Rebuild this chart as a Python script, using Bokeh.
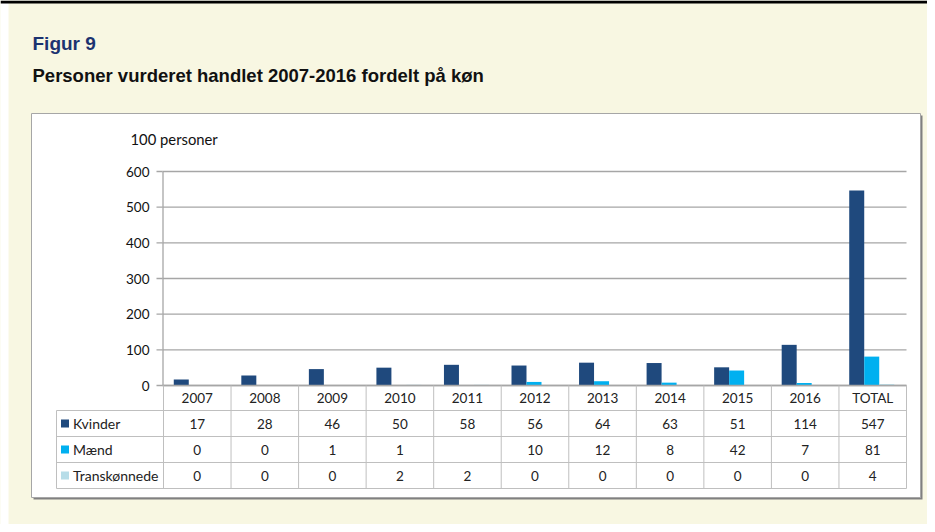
from bokeh.plotting import figure
from bokeh.models import Range1d, ColumnDataSource
from bokeh.core.properties import value
from bokeh.embed import file_html
from bokeh.resources import INLINE

# ---------------- data ----------------
categories = ["2007", "2008", "2009", "2010", "2011", "2012", "2013", "2014", "2015", "2016", "TOTAL"]
kvinder = [17, 28, 46, 50, 58, 56, 64, 63, 51, 114, 547]
maend = [0, 0, 1, 1, None, 10, 12, 8, 42, 7, 81]
trans = [0, 0, 0, 2, 2, 0, 0, 0, 0, 0, 4]
series_names = ["Kvinder", "Mænd", "Transkønnede"]
series_colors = ["#1F497D", "#00B0F0", "#B7DDE8"]
yticks = [0, 100, 200, 300, 400, 500, 600]
fig_label = "Figur 9"
fig_title = "Personer vurderet handlet 2007-2016 fordelt på køn"
y_unit_label = "100 personer"

# ---------------- layout (picture pixels) ----------------
W, H = 927, 524
OFF = 0
COL_LEFT = 163.0
COLW = (906.0 - 163.0) / len(categories)
ZERO_PY = 385.0
PXU = 214.0 / 600.0


def X(px):
    return (px - COL_LEFT) / COLW


def Y(py):
    return (ZERO_PY - py) / PXU


p = figure(width=W, height=H, output_backend="svg", toolbar_location=None,
           x_range=Range1d(X(OFF), X(OFF + W)), y_range=Range1d(Y(OFF + H), Y(OFF)),
           min_border=0)
p.axis.visible = False
p.grid.visible = False
p.outline_line_color = None
p.background_fill_color = "#F8F7E2"
p.border_fill_color = "#F8F7E2"

font = value("Lato")

# page edge: white strip left, black rule on top
p.quad(left=[X(0)], right=[X(8)], top=[Y(0)], bottom=[Y(H)], fill_color="white",
       line_color=None)
p.quad(left=[X(0)], right=[X(W)], top=[Y(0)], bottom=[Y(3)], fill_color="black",
       line_color=None)

# titles
p.text(x=[X(32)], y=[Y(43)], text=[fig_label], text_font=value("Liberation Sans"),
       text_font_style="bold", text_font_size="19px", text_color="#1C3370",
       text_baseline="middle", text_align="left")
p.text(x=[X(32)], y=[Y(75)], text=[fig_title], text_font=value("Liberation Sans"),
       text_font_style="bold", text_font_size="18.5px", text_color="#111111",
       text_baseline="middle", text_align="left")

# chart box with shadow
p.quad(left=[X(33)], right=[X(922)], top=[Y(115)], bottom=[Y(499)],
       fill_color="#808080", line_color=None)
p.quad(left=[X(31)], right=[X(920)], top=[Y(113)], bottom=[Y(497)],
       fill_color="white", line_color="#A6A6A6", line_width=1)

# unit label
p.text(x=[X(130)], y=[Y(138)], text=[y_unit_label], text_font=font,
       text_font_size="14.8px", text_color="#111111", text_baseline="middle",
       text_align="left")

# grid lines, ticks, tick labels
p.segment(x0=[X(162)] * len(yticks), x1=[X(906)] * len(yticks), y0=yticks, y1=yticks,
          line_color="#A6A6A6", line_width=1.3)
p.segment(x0=[X(156)] * len(yticks), x1=[X(162)] * len(yticks), y0=yticks, y1=yticks,
          line_color="#A6A6A6", line_width=1.3)
p.text(x=[X(149)] * len(yticks), y=yticks, text=[str(t) for t in yticks], text_font=font,
       text_font_size="13.5px", text_color="#111111", text_align="right",
       text_baseline="middle")
p.segment(x0=[X(162.5)], x1=[X(162.5)], y0=[Y(171)], y1=[0],
          line_color="#A6A6A6", line_width=1.3)

# bars
n = len(categories)
bw = 15.0 / COLW
offsets = [-bw - 1.0 / COLW, -1.0 / COLW, bw - 1.0 / COLW]
for vals, off, col in zip([kvinder, maend, trans], offsets, series_colors):
    xs = [i + 0.5 + off for i in range(n)]
    tops = [float("nan") if v is None else v for v in vals]
    src = ColumnDataSource(dict(x=xs, top=tops))
    p.vbar(x="x", top="top", bottom=0, width=bw, source=src, fill_color=col,
           line_color=None)

# table
tbl_col = "#BFBFBF"
row_lines = [410, 436, 462, 488]
p.segment(x0=[X(56)] * len(row_lines), x1=[X(906)] * len(row_lines),
          y0=[Y(r) for r in row_lines], y1=[Y(r) for r in row_lines],
          line_color=tbl_col, line_width=1)
p.segment(x0=[X(162)], x1=[X(906)], y0=[0], y1=[0], line_color="#A6A6A6", line_width=1.3)
vx = [i for i in range(1, n + 1)]
p.segment(x0=vx, x1=vx, y0=[0] * n, y1=[Y(488)] * n, line_color=tbl_col, line_width=1)
p.segment(x0=[0, X(56)], x1=[0, X(56)], y0=[0, Y(410)], y1=[Y(488), Y(488)],
          line_color=tbl_col, line_width=1)

cx = [i + 0.5 for i in range(n)]
p.text(x=cx, y=[Y(397)] * n, text=categories, text_font=font, text_font_size="13.5px",
       text_color="#222222", text_align="center", text_baseline="middle")
row_centers = [423, 449, 475]
for vals, rc in zip([kvinder, maend, trans], row_centers):
    txt = ["" if v is None else str(v) for v in vals]
    p.text(x=cx, y=[Y(rc)] * n, text=txt, text_font=font, text_font_size="13.5px",
           text_color="#222222", text_align="center", text_baseline="middle")

# legend keys inside table
p.scatter(x=[X(64.5)] * 3, y=[Y(r) for r in row_centers], marker="square", size=8,
          fill_color=series_colors, line_color=None)
p.text(x=[X(72.5)] * 3, y=[Y(r) for r in row_centers], text=series_names, text_font=font,
       text_font_size="14px", text_color="#222222", text_align="left",
       text_baseline="middle")

open("out.html", "w").write(file_html(p, INLINE))
